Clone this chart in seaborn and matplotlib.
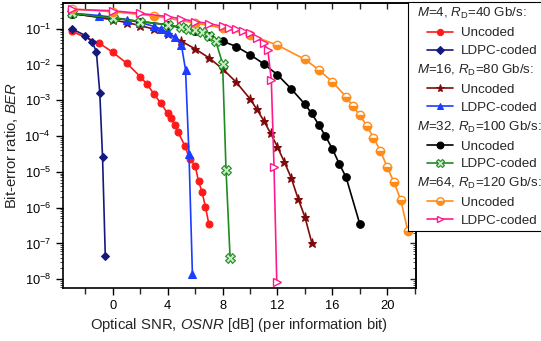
import numpy as np
import pandas as pd
import matplotlib
matplotlib.use('Agg')
import matplotlib.pyplot as plt
from matplotlib.lines import Line2D
from matplotlib.legend_handler import HandlerLine2D
from matplotlib.ticker import MultipleLocator, LogLocator, NullFormatter
import seaborn as sns

# --- data (OSNR in dB, BER) ---
x_m4_unc = [-3, -1, 0, 1, 2, 2.5, 3, 3.5, 4, 4.25, 4.5, 4.75, 5.25, 5.6, 6, 6.25, 6.5, 6.75, 7]
ber_m4_unc = [8.5e-2, 4.0e-2, 2.2e-2, 1.1e-2, 4.6e-3, 2.8e-3, 1.5e-3, 8.3e-4, 4.3e-4, 3.3e-4,
              2.0e-4, 1.3e-4, 5.4e-5, 2.3e-5, 1.5e-5, 5.4e-6, 2.8e-6, 1.05e-6, 3.5e-7]

x_m4_ldpc = [-3, -2, -1.5, -1.2, -0.95, -0.75, -0.55]
ber_m4_ldpc = [1.0e-1, 6.5e-2, 4.2e-2, 2.3e-2, 1.6e-3, 2.6e-5, 4.5e-8]

x_m16_unc = [-3, 0, 1, 2, 3, 4, 5, 6, 7, 8, 9, 10, 10.5, 11, 11.5, 12, 12.5, 13, 13.5, 14, 14.5]
ber_m16_unc = [2.75e-1, 1.78e-1, 1.5e-1, 1.23e-1, 9.8e-2, 7.1e-2, 4.5e-2, 2.75e-2, 1.55e-2, 7.6e-3,
               3.2e-3, 1.1e-3, 5.6e-4, 2.7e-4, 1.2e-4, 5.0e-5, 1.9e-5, 6.8e-6, 1.8e-6, 5.5e-7, 1.05e-7]

x_m16_ldpc = [-3, -1, 0, 1, 2, 3, 3.5, 4, 4.5, 5, 5.3, 5.55, 5.8]
ber_m16_ldpc = [2.75e-1, 2.35e-1, 2.1e-1, 1.8e-1, 1.5e-1, 1.17e-1, 1.0e-1, 7.9e-2, 6.0e-2, 3.5e-2,
                7.1e-3, 3.2e-5, 1.4e-8]

x_m32_unc = [-3, 0, 2, 4, 6, 7, 8, 9, 10, 11, 12, 13, 14, 14.5, 15, 15.5, 16, 16.5, 17, 18]
ber_m32_unc = [2.6e-1, 2.0e-1, 1.6e-1, 1.3e-1, 8.5e-2, 6.2e-2, 4.5e-2, 3.2e-2, 1.9e-2, 1.05e-2,
               5.2e-3, 2.1e-3, 7.8e-4, 4.3e-4, 2.1e-4, 1.0e-4, 4.4e-5, 1.7e-5, 7.1e-6, 3.5e-7]

x_m32_ldpc = [-3, 0, 2, 4, 5, 5.5, 6, 6.5, 7, 7.5, 8, 8.25, 8.55]
ber_m32_ldpc = [2.7e-1, 2.0e-1, 1.6e-1, 1.3e-1, 1.1e-1, 1.0e-1, 9.1e-2, 7.9e-2, 6.3e-2, 4.5e-2,
                1.07e-2, 1.15e-5, 3.8e-8]

x_m64_unc = [-3, 0, 3, 6, 8, 10, 12, 14, 15, 16, 17, 17.5, 18, 18.5, 19, 19.5, 20, 20.5, 21, 21.5]
ber_m64_unc = [3.6e-1, 3.0e-1, 2.3e-1, 1.45e-1, 1.05e-1, 6.8e-2, 3.5e-2, 1.4e-2, 7.2e-3, 3.3e-3,
               1.26e-3, 6.9e-4, 3.9e-4, 1.95e-4, 9.1e-5, 3.9e-5, 1.35e-5, 5.1e-6, 1.6e-6, 2.2e-7]

x_m64_ldpc = [-3, 0, 2, 4, 5, 6, 7, 8, 8.5, 9, 9.5, 10, 10.5, 11, 11.3, 11.55, 11.75, 11.95]
ber_m64_ldpc = [3.5e-1, 3.2e-1, 2.7e-1, 2.2e-1, 1.9e-1, 1.6e-1, 1.4e-1, 1.17e-1, 1.07e-1, 9.8e-2,
                8.7e-2, 7.6e-2, 5.6e-2, 4.0e-2, 2.5e-2, 3.8e-3, 1.35e-5, 8.5e-9]

group_titles = [r'$M$=4, $R_{\rm D}$=40 Gb/s:', r'$M$=16, $R_{\rm D}$=80 Gb/s:',
                r'$M$=32, $R_{\rm D}$=100 Gb/s:', r'$M$=64, $R_{\rm D}$=120 Gb/s:']
entry_labels = ['Uncoded', 'LDPC-coded']

sns.set_style('ticks')
plt.rcParams['font.family'] = ['Liberation Sans', 'DejaVu Sans']
plt.rcParams['mathtext.fontset'] = 'custom'
plt.rcParams['mathtext.rm'] = 'Liberation Sans'
plt.rcParams['mathtext.it'] = 'Liberation Sans:italic'
plt.rcParams['mathtext.bf'] = 'Liberation Sans:bold'

fig = plt.figure(figsize=(5.41, 3.41), dpi=100)
ax = fig.add_axes([0.116, 0.155, 0.653, 0.836])

# series styles
series = [
    (x_m4_unc, ber_m4_unc, dict(color='#ff1a1a', marker='o', ms=5, mfc='#ff1a1a', mec='#ff1a1a')),
    (x_m4_ldpc, ber_m4_ldpc, dict(color='#15197f', marker='D', ms=4.5, mfc='#15197f', mec='#15197f')),
    (x_m16_unc, ber_m16_unc, dict(color='#7f0a0a', marker='*', ms=6.5, mfc='#7f0a0a', mec='#7f0a0a')),
    (x_m16_ldpc, ber_m16_ldpc, dict(color='#1c3cff', marker='^', ms=5.5, mfc='#1c3cff', mec='#1c3cff')),
    (x_m32_unc, ber_m32_unc, dict(color='black', marker='o', ms=5.5, mfc='black', mec='black')),
    (x_m32_ldpc, ber_m32_ldpc, dict(color='#1e8c1e', marker='X', ms=6.5, mfc='#c8ecc8', mec='#1e8c1e', mew=0.8)),
    (x_m64_unc, ber_m64_unc, dict(color='#ff8c1a', marker='o', ms=6, mfc='#ff8c1a', mfcalt='white',
                                  fillstyle='bottom', mec='#ff8c1a', mew=1.0)),
    (x_m64_ldpc, ber_m64_ldpc, dict(color='#ff1a8c', marker='>', ms=5.5, mfc='white', mec='#ff1a8c', mew=1.0)),
]

handles = []
for xs, ys, st in series:
    df = pd.DataFrame({'osnr': xs, 'ber': ys})
    sns.lineplot(data=df, x='osnr', y='ber', ax=ax, estimator=None, sort=False,
                 linewidth=1.2, **st)
    handles.append(ax.get_lines()[-1])

ax.set_yscale('log')
ax.set_xlim(-3.65, 22.1)
ax.set_ylim(10 ** -8.25, 10 ** -0.28)

ax.xaxis.set_major_locator(MultipleLocator(4))
ax.xaxis.set_minor_locator(MultipleLocator(2))
ax.yaxis.set_major_locator(LogLocator(base=10, numticks=20))
ax.yaxis.set_minor_locator(LogLocator(base=10, subs=np.arange(2, 10), numticks=20))
ax.yaxis.set_minor_formatter(NullFormatter())
ax.tick_params(axis='both', which='major', direction='out', length=5, width=1, labelsize=9.3, colors='black')
ax.tick_params(axis='x', which='minor', direction='out', length=4, width=1)
ax.tick_params(axis='y', which='minor', direction='out', length=2.5, width=0.6)

# mirrored ticks on the top and right, pointing inward
top = ax.secondary_xaxis('top')
top.xaxis.set_major_locator(MultipleLocator(4))
top.xaxis.set_minor_locator(MultipleLocator(2))
top.xaxis.set_major_formatter(NullFormatter())
top.xaxis.set_minor_formatter(NullFormatter())
top.tick_params(which='both', direction='in', length=4, width=1, labeltop=False)
right = ax.secondary_yaxis('right')
right.yaxis.set_major_locator(LogLocator(base=10, numticks=20))
right.yaxis.set_minor_locator(LogLocator(base=10, subs=np.arange(2, 10), numticks=20))
right.yaxis.set_major_formatter(NullFormatter())
right.yaxis.set_minor_formatter(NullFormatter())
right.tick_params(which='major', direction='in', length=4, width=1, labelright=False)
right.tick_params(which='minor', direction='in', length=2.5, width=0.6)

for sp in ax.spines.values():
    sp.set_linewidth(1.2)
    sp.set_color('black')
for a in (top, right):
    for sp in a.spines.values():
        sp.set_linewidth(1.2)

ax.set_xlabel(r'Optical SNR, $OSNR$ [dB] (per information bit)', fontsize=10.7, labelpad=3)
ax.set_ylabel(r'Bit-error ratio, $BER$', fontsize=10.7, labelpad=3)

# legend: group header rows + two entries per group
leg_handles, leg_labels, header_idx = [], [], []
for g, title in enumerate(group_titles):
    header_idx.append(len(leg_handles))
    leg_handles.append(Line2D([], [], linestyle='none', marker=None))
    leg_labels.append(title)
    for k in range(2):
        h = handles[2 * g + k]
        proxy = Line2D([], [], color=h.get_color(), linewidth=1.2, marker=h.get_marker(),
                       markersize=h.get_markersize() * 0.9, markerfacecolor=h.get_markerfacecolor(),
                       markerfacecoloralt=h.get_markerfacecoloralt(), fillstyle=h.get_fillstyle(),
                       markeredgecolor=h.get_markeredgecolor(), markeredgewidth=h.get_markeredgewidth())
        leg_handles.append(proxy)
        leg_labels.append(entry_labels[k])

fs = 9.6
leg = fig.legend(leg_handles, leg_labels, loc='upper left', bbox_to_anchor=(0.754, 0.993),
                 fontsize=fs, frameon=True, fancybox=False, edgecolor='black', framealpha=1,
                 handlelength=3.1, handletextpad=0.55, labelspacing=0.42, borderpad=0.3,
                 borderaxespad=0, handler_map={Line2D: HandlerLine2D(xpad=1.15)})
leg.get_frame().set_linewidth(0.8)

# pull the header rows left so they start before the handles
rows = []
for col in leg._legend_handle_box.get_children():
    rows.extend(col.get_children())
for i in header_idx:
    rows[i].get_children()[0].set_width(-0.2 * fs)

fig.savefig('out.png', dpi=100)
